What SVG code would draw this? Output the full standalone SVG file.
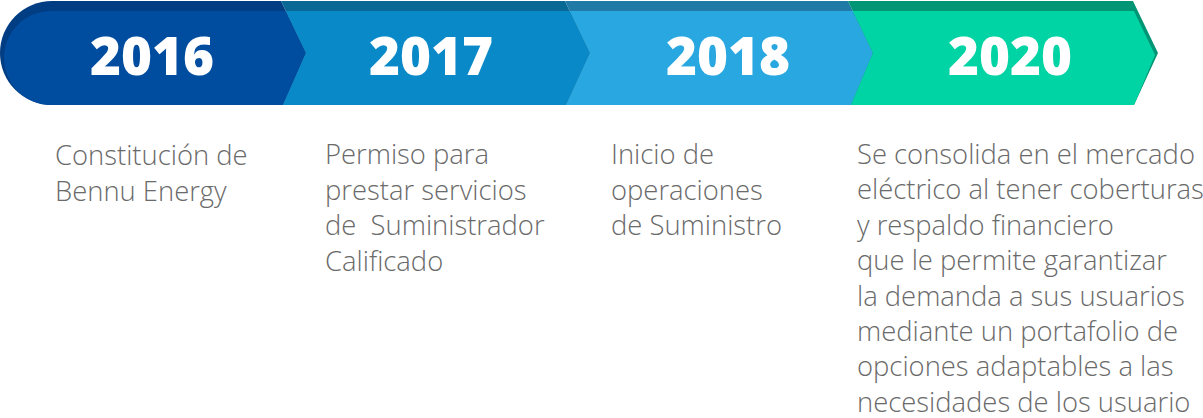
<svg xmlns="http://www.w3.org/2000/svg" width="1203" height="418" viewBox="0 0 1203 418">
<style>
.year{font-family:"Open Sans","Liberation Sans",sans-serif;font-weight:800;font-size:53px;fill:#ffffff;text-anchor:middle}
.desc{font-family:"Open Sans","Liberation Sans",sans-serif;font-weight:300;font-size:27.4px;fill:#6a6a6a}
</style>
<rect width="1203" height="418" fill="#ffffff"/>
<g id="step-2016">
<path d="M52,1 H281 L306,53 L283,105 H52 A52,52 0 0 1 52,1 Z" fill="#003d82"/>
<path d="M51,11 H285.8 L306,53 L283,105 H51 A47,47 0 0 1 51,11 Z" fill="#004da0"/>
<text class="year" x="152" y="75">2016</text>
<text class="desc" x="55" y="165"><tspan x="55">Constitución de</tspan><tspan x="55" dy="35.5">Bennu Energy</tspan></text>
</g>
<g id="step-2017">
<path d="M281,1 H565 L590,53 L566,105 H283 L306,53 Z" fill="#0a6895"/>
<path d="M285.8,11 H569.8 L590,53 L566,105 H283 L306,53 Z" fill="#0a89c8"/>
<text class="year" x="431" y="75">2017</text>
<text class="desc" x="325" y="164"><tspan x="325">Permiso para</tspan><tspan x="325" dy="35.5">prestar servicios</tspan><tspan x="325" dy="35.5" xml:space="preserve">de  Suministrador</tspan><tspan x="325" dy="35.5">Calificado</tspan></text>
</g>
<g id="step-2018">
<path d="M565,1 H848 L873,53 L851,105 H566 L590,53 Z" fill="#1f7aa6"/>
<path d="M569.8,11 H852.8 L873,53 L851,105 H566 L590,53 Z" fill="#29a7e1"/>
<text class="year" x="728" y="75">2018</text>
<text class="desc" x="611" y="164"><tspan x="611">Inicio de</tspan><tspan x="611" dy="35.5">operaciones</tspan><tspan x="611" dy="35.5">de Suministro</tspan></text>
</g>
<g id="step-2020">
<path d="M848,1 H1133 L1158,53 L1134,105 H851 L873,53 Z" fill="#009574"/>
<path d="M852.8,11 H1134 L1155,55 L1134,105 H851 L873,53 Z" fill="#00d3a4"/>
<text class="year" x="1010" y="75">2020</text>
<text class="desc" x="857" y="164"><tspan x="857">Se consolida en el mercado</tspan><tspan x="857" dy="35.4">eléctrico al tener coberturas</tspan><tspan x="857" dy="35.4">y respaldo financiero</tspan><tspan x="857" dy="35.4">que le permite garantizar</tspan><tspan x="857" dy="35.4">la demanda a sus usuarios</tspan><tspan x="857" dy="35.4">mediante un portafolio de</tspan><tspan x="857" dy="35.4">opciones adaptables a las</tspan><tspan x="857" dy="35.4">necesidades de los usuario</tspan></text>
</g>
</svg>
